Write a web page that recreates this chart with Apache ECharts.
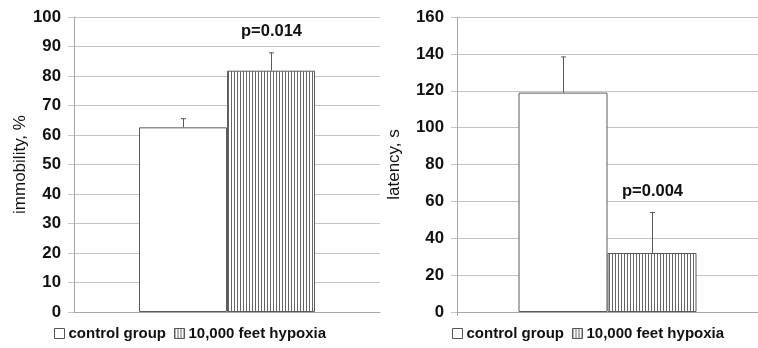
<!DOCTYPE html>
<html>
<head>
<meta charset="utf-8">
<script src="https://cdn.jsdelivr.net/npm/echarts@6/dist/echarts.min.js"></script>
<style>
html,body{margin:0;padding:0;background:#fff;}
#c{width:758px;height:348px;}
</style>
</head>
<body>
<div id="c"></div>
<script>
// ---- data ----
var groups = ['control group', '10,000 feet hypoxia'];
var immobilityMean = [62.6, 81.8];
var immobilityErrTop = [65.7, 88.0];
var latencyMean = [119, 32];
var latencyErrTop = [138.6, 54.2];
var pImmobility = 'p=0.014';
var pLatency = 'p=0.004';
var immobilityTicks = {min: 0, max: 100, interval: 10};
var latencyTicks = {min: 0, max: 160, interval: 20};

// ---- styles ----
var FONT = '"Liberation Sans", Arial, sans-serif';
var EDGE = '#5a5a5a';
var GRIDC = '#c4c4c4';

function hatch() {
  var c = document.createElement('canvas');
  c.width = 3; c.height = 8;
  var g = c.getContext('2d');
  g.fillStyle = '#ffffff'; g.fillRect(0, 0, 3, 8);
  g.fillStyle = '#666666'; g.fillRect(0, 0, 1, 8);
  return c;
}
var hatchPattern = {image: hatch(), repeat: 'repeat'};
var fills = ['#ffffff', hatchPattern];

var chart = echarts.init(document.getElementById('c'), null, {renderer: 'canvas'});

function yAx(gi, ticks, name, gap) {
  return {
    type: 'value', gridIndex: gi, min: ticks.min, max: ticks.max, interval: ticks.interval,
    name: name, nameLocation: 'middle', nameGap: gap, nameRotate: 90, nameMoveOverlap: false,
    nameTextStyle: {fontFamily: FONT, fontSize: 17, color: '#111'},
    axisLine: {show: true, lineStyle: {color: '#a8a8a8', width: 1}},
    axisTick: {show: true, inside: false, length: 6, lineStyle: {color: GRIDC, width: 1}},
    axisLabel: {fontFamily: FONT, fontSize: 16.8, fontWeight: 'bold', color: '#111', margin: 13},
    splitLine: {show: true, lineStyle: {color: GRIDC, width: 1}}
  };
}
function xAx(gi, tick) {
  return {
    type: 'category', gridIndex: gi, data: [''],
    axisLine: {show: true, lineStyle: {color: '#a8a8a8', width: 1}},
    axisTick: {show: tick, length: 4, lineStyle: {color: '#a8a8a8'}},
    axisLabel: {show: false}
  };
}

var BW = [88, 89];

function barSeries(gi, means) {
  return groups.map(function (g, i) {
    return {
      type: 'bar', name: g, xAxisIndex: gi, yAxisIndex: gi,
      data: [means[i]], barWidth: BW[gi], barGap: '0%',
      itemStyle: {color: fills[i], borderColor: EDGE, borderWidth: 1},
      emphasis: {disabled: true}, animation: false, z: 2
    };
  });
}

function errSeries(gi, means, tops, ptext) {
  var data = means.map(function (m, i) { return [0, m, tops[i], i]; });
  return {
    type: 'custom', xAxisIndex: gi, yAxisIndex: gi, data: data, z: 5, animation: false,
    silent: true,
    renderItem: function (params, api) {
      var i = api.value(3);
      var base = api.coord([api.value(0), api.value(1)]);
      var top = api.coord([api.value(0), api.value(2)]);
      var x = Math.round(base[0] + (i - 0.5) * BW[gi]) + 0.5;
      var children = [
        {type: 'line', shape: {x1: x, y1: base[1], x2: x, y2: top[1]}, style: {stroke: EDGE, lineWidth: 1}},
        {type: 'line', shape: {x1: x - 2.5, y1: top[1] + 0.5, x2: x + 2.5, y2: top[1] + 0.5}, style: {stroke: EDGE, lineWidth: 1}}
      ];
      if (i === 1) {
        children.push({type: 'text', x: x, y: top[1] - 21,
          style: {text: ptext, font: 'bold 16.5px ' + FONT, fill: '#111', align: 'center', verticalAlign: 'middle'}});
      }
      return {type: 'group', children: children};
    }
  };
}

function legend(left) {
  return {
    left: left, top: 326, itemWidth: 10, itemHeight: 10, itemGap: 8,
    icon: 'rect', padding: 0,
    data: groups,
    textStyle: {fontFamily: FONT, fontSize: 15, fontWeight: 'bold', color: '#111', padding: [0, 0, 0, -1]},
    itemStyle: {borderColor: '#555', borderWidth: 1},
    selectedMode: false
  };
}

var option = {
  animation: false,
  backgroundColor: '#ffffff',
  grid: [
    {left: 74, top: 17, width: 306, height: 295},
    {left: 457, top: 17, width: 311, height: 295}
  ],
  xAxis: [xAx(0, false), xAx(1, true)],
  yAxis: [yAx(0, immobilityTicks, 'immobility, %', 45), yAx(1, latencyTicks, 'latency, s', 54)],
  legend: [legend(54), legend(452)],
  series: []
    .concat(barSeries(0, immobilityMean))
    .concat(barSeries(1, latencyMean))
    .concat([errSeries(0, immobilityMean, immobilityErrTop, pImmobility),
             errSeries(1, latencyMean, latencyErrTop, pLatency)])
};
chart.setOption(option);
</script>
</body>
</html>
